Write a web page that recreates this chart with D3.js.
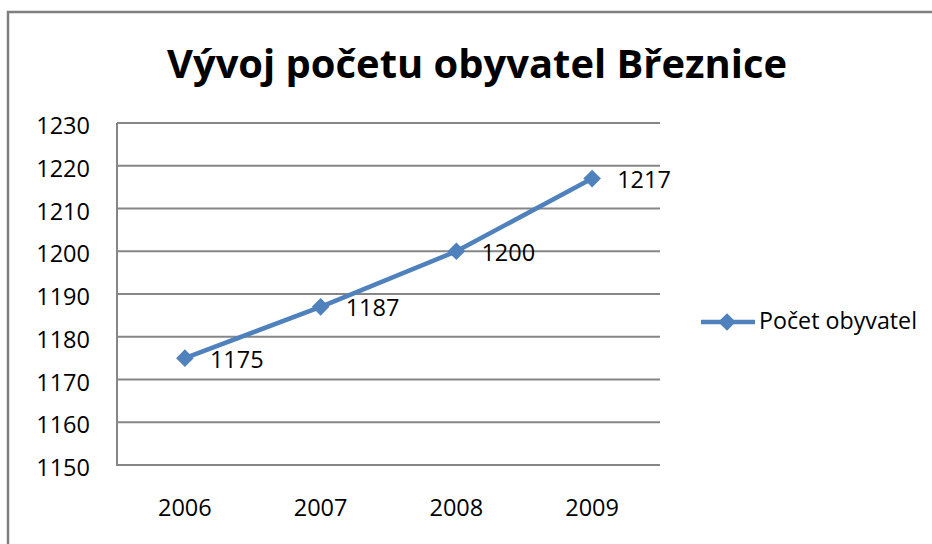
<!DOCTYPE html>
<html>
<head>
<meta charset="utf-8">
<script src="https://cdn.jsdelivr.net/npm/d3@7/dist/d3.min.js"></script>
<style>
  html, body { margin: 0; padding: 0; background: #fff; }
  svg { display: block; }
  text { font-family: "Open Sans", "Noto Sans", sans-serif; fill: #000; }
</style>
</head>
<body>
<svg id="chart" width="932" height="544"></svg>
<script>
const title = "Vývoj početu obyvatel Březnice";
const seriesName = "Počet obyvatel";
const years = ["2006", "2007", "2008", "2009"];
const population = [1175, 1187, 1200, 1217];
const yTicks = [1150, 1160, 1170, 1180, 1190, 1200, 1210, 1220, 1230];

const svg = d3.select("#chart");
const W = 932, H = 544;
const plot = { left: 117, right: 660, top: 123, bottom: 465 };
const lineColor = "#4F81BD";
const gridColor = "#868686";

// outer chart border (extends beyond the picture on right and bottom)
svg.append("rect")
  .attr("x", 8).attr("y", 12)
  .attr("width", W + 20).attr("height", H + 20)
  .attr("fill", "#fff")
  .attr("stroke", "#7f7f7f")
  .attr("stroke-width", 2.5);

// title
svg.append("text")
  .attr("x", 477).attr("y", 78)
  .attr("text-anchor", "middle")
  .attr("font-weight", "bold")
  .attr("font-size", 39)
  .attr("textLength", 620)
  .attr("lengthAdjust", "spacingAndGlyphs")
  .text(title);

const x = d3.scaleBand().domain(years).range([plot.left, plot.right]);
const y = d3.scaleLinear().domain([1150, 1230]).range([plot.bottom, plot.top]);

// gridlines
svg.append("g").selectAll("line").data(yTicks).join("line")
  .attr("x1", plot.left).attr("x2", plot.right)
  .attr("y1", d => y(d)).attr("y2", d => y(d))
  .attr("stroke", gridColor).attr("stroke-width", 2);

// y axis line
svg.append("line")
  .attr("x1", plot.left).attr("x2", plot.left)
  .attr("y1", plot.top).attr("y2", plot.bottom)
  .attr("stroke", gridColor).attr("stroke-width", 2);

// y axis labels
const yAxis = d3.axisLeft(y).tickValues(yTicks).tickSize(0).tickPadding(0).tickFormat(d3.format("d"));
const yg = svg.append("g").attr("transform", `translate(${90},0)`).call(yAxis);
yg.select(".domain").remove();
yg.selectAll("text")
  .attr("font-size", 23.5)
  .attr("font-family", "\"Open Sans\", sans-serif")
  .attr("fill", "#000")
  .attr("dy", null)
  .attr("dominant-baseline", "alphabetic")
  .attr("y", 10.5);

// x axis labels
const xAxis = d3.axisBottom(x).tickSize(0).tickPadding(0);
const xg = svg.append("g").attr("transform", `translate(0,${516})`).call(xAxis);
xg.select(".domain").remove();
xg.selectAll("text")
  .attr("font-size", 23.5)
  .attr("font-family", "\"Open Sans\", sans-serif")
  .attr("fill", "#000")
  .attr("dy", null)
  .attr("y", 0);

const cx = d => x(d) + x.bandwidth() / 2;
const pts = years.map((yr, i) => ({ yr, v: population[i] }));

// line
svg.append("path")
  .datum(pts)
  .attr("fill", "none")
  .attr("stroke", lineColor)
  .attr("stroke-width", 4.5)
  .attr("stroke-linejoin", "round")
  .attr("d", d3.line().x(d => cx(d.yr)).y(d => y(d.v)));

// diamond markers
const marker = d3.symbol().type(d3.symbolSquare).size(155);
svg.append("g").selectAll("path").data(pts).join("path")
  .attr("transform", d => `translate(${cx(d.yr)},${y(d.v)}) rotate(45)`)
  .attr("d", marker)
  .attr("fill", lineColor);

// data labels
svg.append("g").selectAll("text").data(pts).join("text")
  .attr("x", d => cx(d.yr) + 25)
  .attr("y", d => y(d.v) + 9.5)
  .attr("font-size", 23.5)
  .text(d => d.v);

// bottom axis line (drawn on top)
svg.append("line")
  .attr("x1", plot.left - 1).attr("x2", plot.right)
  .attr("y1", plot.bottom).attr("y2", plot.bottom)
  .attr("stroke", gridColor).attr("stroke-width", 2);

// legend
const lg = svg.append("g");
lg.append("line")
  .attr("x1", 701).attr("x2", 755)
  .attr("y1", 322).attr("y2", 322)
  .attr("stroke", lineColor).attr("stroke-width", 4.5);
lg.append("path")
  .attr("transform", "translate(727,322) rotate(45)")
  .attr("d", marker)
  .attr("fill", lineColor);
lg.append("text")
  .attr("x", 759).attr("y", 329)
  .attr("font-size", 23.5)
  .attr("textLength", 158)
  .attr("lengthAdjust", "spacingAndGlyphs")
  .text(seriesName);
</script>
</body>
</html>
